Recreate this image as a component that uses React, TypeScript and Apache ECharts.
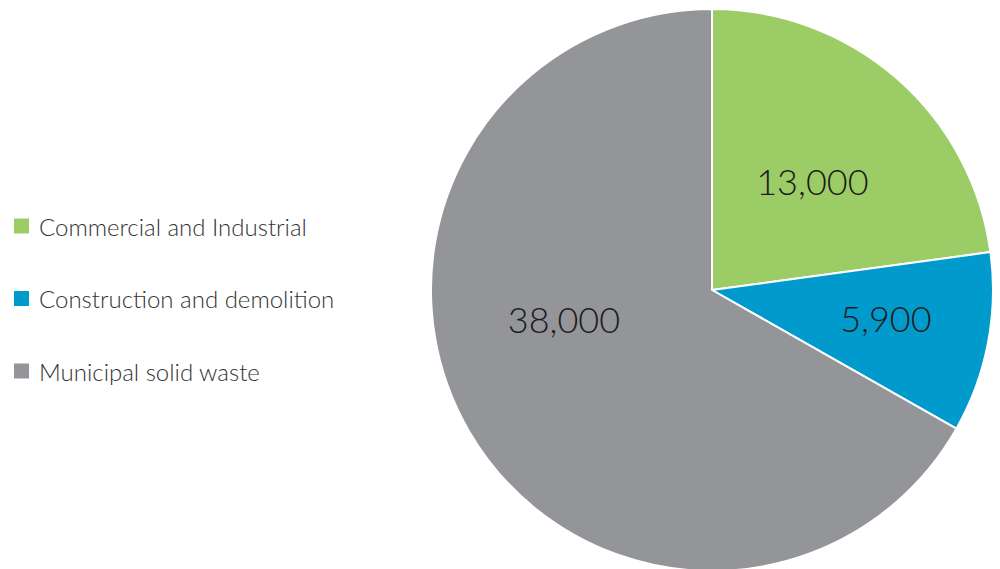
import React, { useEffect, useRef } from "react";
import * as echarts from "echarts";

const categories = ["Commercial and Industrial", "Construction and demolition", "Municipal solid waste"];
const values = [13000, 5900, 38000];
const colors = ["#9ccc65", "#009bcc", "#939598"];
const labelShift = [
  [6, -1],
  [33, 1],
  [-24, -43],
];

export default function App() {
  const ref = useRef<HTMLDivElement>(null);
  useEffect(() => {
    document.body.style.margin = "0";
    const chart = echarts.init(ref.current!, null, { renderer: "svg" });
    chart.setOption({
      animation: false,
      backgroundColor: "#ffffff",
      legend: {
        orient: "vertical",
        left: 12,
        top: 214,
        padding: 0,
        itemWidth: 17,
        itemHeight: 17,
        itemGap: 48.5,
        icon: "rect",
        selectedMode: false,
        textStyle: {
          fontFamily: "Lato",
          fontWeight: 300,
          fontSize: 24,
          lineHeight: 24,
          color: "#333333",
          padding: [0, 0, 0, 4],
        },
        data: categories,
      },
      series: [
        {
          type: "pie",
          center: [712, 290],
          radius: [0, 281],
          startAngle: 90,
          clockwise: true,
          itemStyle: { borderColor: "#ffffff", borderWidth: 2 },
          label: {
            show: true,
            position: "inside",
            fontFamily: "Lato",
            fontWeight: 300,
            fontSize: 36,
            color: "#1e1b1c",
            formatter: (p: any) => p.value.toLocaleString("en-US"),
          },
          labelLine: { show: false },
          labelLayout: (p: any) => ({ dx: labelShift[p.dataIndex][0], dy: labelShift[p.dataIndex][1] }),
          emphasis: { disabled: true },
          data: categories.map((name, i) => ({ name, value: values[i], itemStyle: { color: colors[i] } })),
        },
      ],
    });
    return () => chart.dispose();
  }, []);
  return <div ref={ref} style={{ width: 1000, height: 569 }} />;
}
